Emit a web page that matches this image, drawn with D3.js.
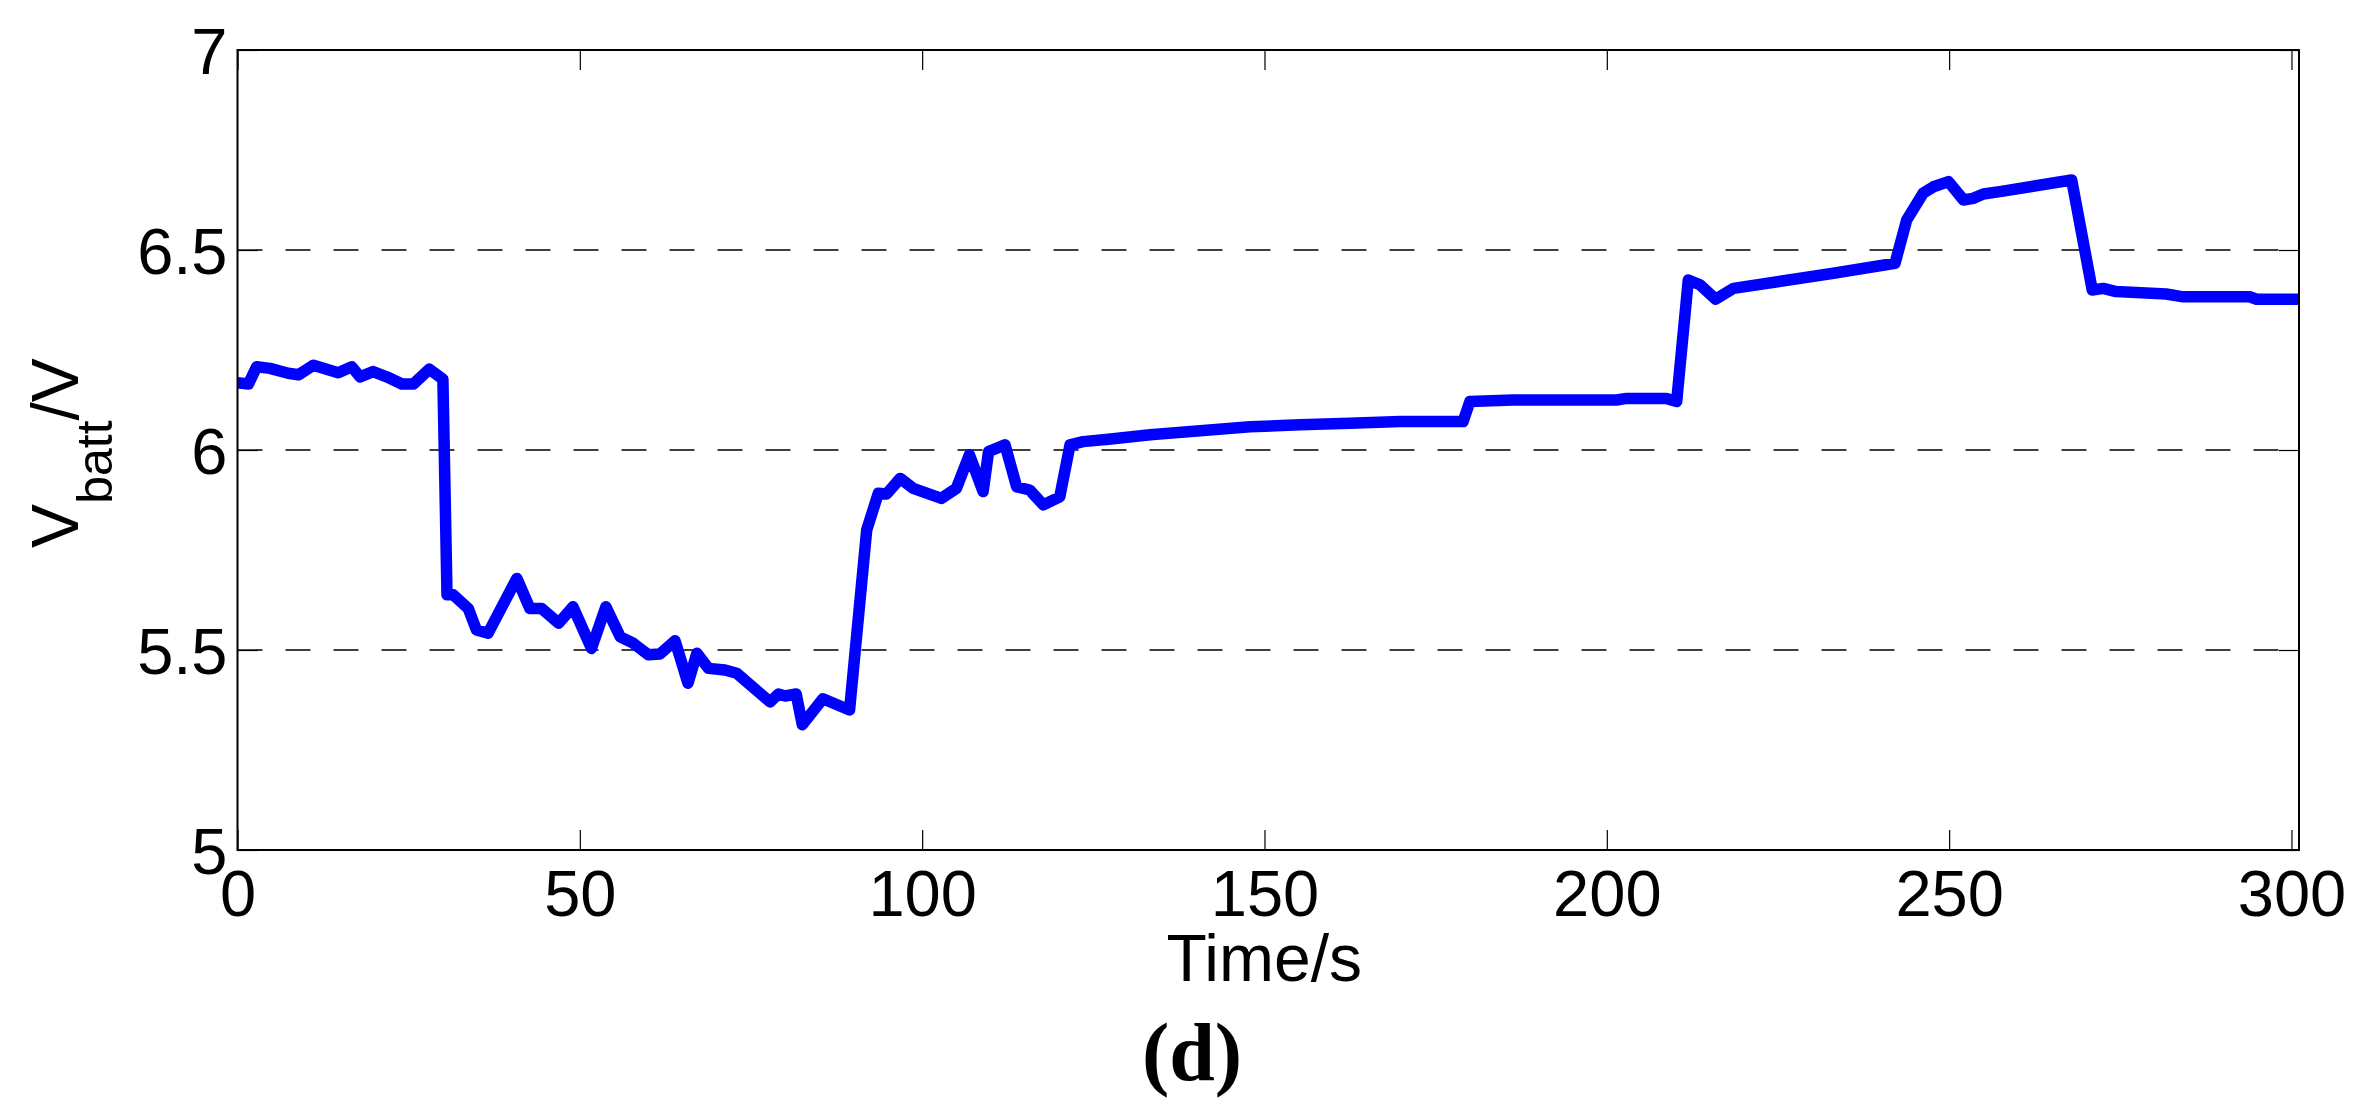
<!DOCTYPE html>
<html>
<head>
<meta charset="utf-8">
<script src="https://cdn.jsdelivr.net/npm/d3@7"></script>
<style>
  html, body { margin: 0; padding: 0; background: #ffffff; }
  svg { display: block; }
</style>
</head>
<body>
<script>
// ---- data ----
const timeS = [0, 1.6, 2.8, 4.75, 7.4, 8.9, 11.1, 14.7, 16.7, 17.9, 19.8, 21.8, 24.0, 25.7, 28.0, 30.0,
  30.6, 31.5, 33.7, 34.9, 36.6, 40.8, 42.7, 44.4, 46.9, 49.0, 51.7, 53.8, 55.9, 57.8, 60.0, 61.7,
  63.9, 65.8, 67.1, 68.8, 71.2, 72.9, 77.8, 79.0, 80.0, 81.6, 82.5, 85.5, 89.4, 91.9, 93.6, 94.8,
  96.8, 98.7, 102.8, 105.0, 106.9, 108.9, 109.7, 112.1, 113.8, 115.7, 117.7, 120.1, 121.6, 123.5,
  127.2, 133.3, 140.6, 147.9, 155.2, 162.5, 169.8, 179.0, 180.0, 186.3, 201.4, 202.9, 208.7, 210.2,
  211.9, 213.6, 215.9, 218.5, 233.1, 242.1, 243.8, 246.2, 247.7, 249.9, 252.1, 253.5, 255.0, 257.4,
  267.9, 270.9, 272.5, 274.4, 281.7, 284.2, 293.9, 294.9, 301.2];
const vBatt = [6.168, 6.165, 6.208, 6.204, 6.192, 6.188, 6.212, 6.193, 6.208, 6.183, 6.196, 6.183, 6.165, 6.165, 6.202, 6.177,
  5.638, 5.638, 5.604, 5.55, 5.542, 5.679, 5.604, 5.604, 5.567, 5.608, 5.504, 5.608, 5.533, 5.517, 5.488, 5.49,
  5.523, 5.417, 5.492, 5.454, 5.45, 5.442, 5.37, 5.39, 5.385, 5.39, 5.313, 5.378, 5.35, 5.8, 5.892, 5.89,
  5.929, 5.904, 5.879, 5.904, 5.988, 5.896, 5.996, 6.013, 5.908, 5.9, 5.863, 5.883, 6.013, 6.021,
  6.027, 6.038, 6.048, 6.058, 6.063, 6.067, 6.071, 6.071, 6.121, 6.125, 6.125, 6.129, 6.129, 6.121,
  6.425, 6.413, 6.377, 6.404, 6.442, 6.467, 6.575, 6.642, 6.658, 6.671, 6.625, 6.629, 6.64, 6.646,
  6.675, 6.40, 6.404, 6.396, 6.39, 6.383, 6.383, 6.377, 6.377];
const xTicks = [0, 50, 100, 150, 200, 250, 300];
const xTickLabels = ["0", "50", "100", "150", "200", "250", "300"];
const yTicks = [5, 5.5, 6, 6.5, 7];
const yTickLabels = ["5", "5.5", "6", "6.5", "7"];
const gridValues = [5.5, 6, 6.5];
const xDomain = [0, 301.1];
const yDomain = [5, 7];

// ---- layout ----
const W = 2368, H = 1120;
const L = 237.5, R = 2299, T = 50, B = 850;
const FONT = "'Liberation Sans', Arial, Helvetica, sans-serif";

const svg = d3.select("body").append("svg")
  .attr("width", W).attr("height", H)
  .style("background", "#fff");

const x = d3.scaleLinear().domain(xDomain).range([L, R]);
const y = d3.scaleLinear().domain(yDomain).range([B, T]);

// grid lines (dashed)
svg.append("g").selectAll("line").data(gridValues).join("line")
  .attr("x1", L).attr("x2", R)
  .attr("y1", d => y(d)).attr("y2", d => y(d))
  .attr("stroke", "#000").attr("stroke-width", 1.3)
  .attr("stroke-dasharray", "25,23");

// axes with inside ticks
const tickLen = 20;
const gx = svg.append("g").attr("transform", `translate(0,${B})`)
  .call(d3.axisBottom(x).tickValues(xTicks).tickFormat((d, i) => xTickLabels[i])
    .tickSizeInner(-tickLen).tickSizeOuter(0).tickPadding(0));
const gxTop = svg.append("g").attr("transform", `translate(0,${T})`)
  .call(d3.axisTop(x).tickValues(xTicks).tickFormat("")
    .tickSizeInner(-tickLen).tickSizeOuter(0));
const gy = svg.append("g").attr("transform", `translate(${L},0)`)
  .call(d3.axisLeft(y).tickValues(yTicks).tickFormat((d, i) => yTickLabels[i])
    .tickSizeInner(-tickLen).tickSizeOuter(0).tickPadding(0));
const gyR = svg.append("g").attr("transform", `translate(${R},0)`)
  .call(d3.axisRight(y).tickValues(yTicks).tickFormat("")
    .tickSizeInner(-tickLen).tickSizeOuter(0));

[gx, gxTop, gy, gyR].forEach(g => {
  g.select(".domain").remove();
  g.selectAll(".tick line").attr("stroke", "#000").attr("stroke-width", 1.2);
});

gx.selectAll(".tick text")
  .attr("y", 66).attr("dy", null)
  .attr("font-family", FONT).attr("font-size", 65).attr("fill", "#000");
gy.selectAll(".tick text")
  .attr("x", -10).attr("dy", "0.36em")
  .attr("font-family", FONT).attr("font-size", 65).attr("fill", "#000")
  .attr("text-anchor", "end");

// data line
const line = d3.line().x((d, i) => x(timeS[i])).y(d => y(d));
svg.append("path")
  .datum(vBatt)
  .attr("d", line)
  .attr("fill", "none")
  .attr("stroke", "#0000ff")
  .attr("stroke-width", 11.5)
  .attr("stroke-linejoin", "round")
  .attr("stroke-linecap", "butt");

// box
svg.append("rect")
  .attr("x", L).attr("y", T).attr("width", R - L).attr("height", B - T)
  .attr("fill", "none").attr("stroke", "#000").attr("stroke-width", 2);

// x label
svg.append("text")
  .attr("x", (L + R) / 2 - 4).attr("y", 981)
  .attr("text-anchor", "middle")
  .attr("font-family", FONT).attr("font-size", 66)
  .text("Time/s");

// y label
const yl = svg.append("text")
  .attr("transform", "translate(78,453) rotate(-90)")
  .attr("text-anchor", "middle")
  .attr("font-family", FONT).attr("font-size", 66);
yl.append("tspan").text("V");
yl.append("tspan").attr("font-size", 50).attr("dy", 34).text("batt");
yl.append("tspan").attr("dy", -34).text("/V");

// caption
svg.append("text")
  .attr("x", 1192).attr("y", 1080)
  .attr("text-anchor", "middle")
  .attr("font-family", "'Liberation Serif', 'Times New Roman', serif")
  .attr("font-weight", "bold").attr("font-size", 82)
  .text("(d)");
</script>
</body>
</html>
